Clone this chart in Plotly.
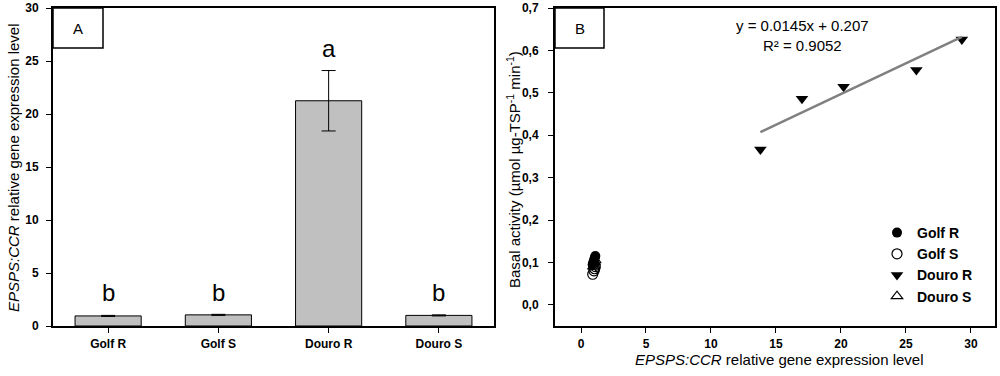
import plotly.graph_objects as go

# ---- Panel A data ----
categories = ["Golf R", "Golf S", "Douro R", "Douro S"]
expr_means = [0.95, 1.05, 21.25, 1.0]
expr_err = [0.05, 0.05, 2.85, 0.05]
sig_letters = ["b", "b", "a", "b"]
letter_y = [3.2, 3.2, 26.2, 3.2]

# ---- Panel B data ----
golfR_x = [0.9, 1.0, 1.05, 1.1, 0.95]
golfR_y = [0.095, 0.105, 0.11, 0.115, 0.1]
golfS_x = [0.9, 1.0, 1.05, 1.1, 0.95]
golfS_y = [0.072, 0.08, 0.085, 0.09, 0.095]
douroR_x = [13.8, 17.0, 20.2, 25.8, 29.3]
douroR_y = [0.366, 0.486, 0.514, 0.554, 0.626]
douroS_x = [0.95, 1.05, 1.1]
douroS_y = [0.09, 0.1, 0.105]
slope, intercept = 0.0145, 0.207
fit_x = [min(douroR_x), max(douroR_x)]

FONT = "Arial, Liberation Sans, sans-serif"
W, H = 1000, 376

def px(x):
    return x / W

def py(y):
    return 1 - y / H

fig = go.Figure()

fig.add_trace(go.Bar(
    x=categories, y=expr_means,
    error_y=dict(type="data", array=expr_err, color="black", thickness=1, width=7),
    marker=dict(color="#c0c0c0", line=dict(color="black", width=1)),
    width=0.6, showlegend=False, xaxis="x", yaxis="y"))

for c, t, ly in zip(categories, sig_letters, letter_y):
    fig.add_annotation(x=c, y=ly, xref="x", yref="y", text=t, showarrow=False,
                       xanchor="center", yanchor="middle",
                       font=dict(family=FONT, size=24, color="black"))

# Panel B scatter
fig.add_trace(go.Scatter(x=golfR_x, y=golfR_y, mode="markers", name="Golf R",
                         marker=dict(symbol="circle", size=10, color="black"),
                         xaxis="x2", yaxis="y2"))
fig.add_trace(go.Scatter(x=golfS_x, y=golfS_y, mode="markers", name="Golf S",
                         marker=dict(symbol="circle-open", size=10, color="black", line=dict(width=1.2)),
                         xaxis="x2", yaxis="y2"))
fig.add_trace(go.Scatter(x=douroR_x, y=douroR_y, mode="markers", name="Douro R",
                         marker=dict(symbol="triangle-down", size=11, color="black"),
                         xaxis="x2", yaxis="y2"))
fig.add_trace(go.Scatter(x=douroS_x, y=douroS_y, mode="markers", name="Douro S",
                         marker=dict(symbol="triangle-up-open", size=10, color="black", line=dict(width=1.2)),
                         xaxis="x2", yaxis="y2"))
fig.add_trace(go.Scatter(x=fit_x, y=[slope * v + intercept for v in fit_x], mode="lines",
                         line=dict(color="#808080", width=2.5), showlegend=False,
                         xaxis="x2", yaxis="y2"))

axis_common = dict(showline=True, linecolor="black", linewidth=2, mirror=True,
                   ticks="outside", ticklen=5, tickcolor="black", tickwidth=1,
                   showgrid=False, zeroline=False, automargin=False,
                   tickfont=dict(family=FONT, size=12, color="black", weight="bold"))

ydom = [py(326), py(8)]
fig.update_layout(
    template="none",
    width=W, height=H, margin=dict(l=0, r=0, t=0, b=0, pad=0, autoexpand=False),
    paper_bgcolor="white", plot_bgcolor="white",
    separators=",.",
    xaxis=dict(domain=[px(53), px(494)], range=[-0.5, 3.5], ticklabelstandoff=1, **axis_common),
    yaxis=dict(domain=ydom, range=[0, 30], dtick=5, anchor="x", ticklabelstandoff=5, **axis_common),
    xaxis2=dict(domain=[px(555), px(995)], range=[-2, 31.85], dtick=5, anchor="y2",
                ticklabelstandoff=1, **axis_common),
    yaxis2=dict(domain=ydom, range=[-0.05, 0.7], dtick=0.1, tickformat=".1f", anchor="x2",
                ticklabelstandoff=7, **axis_common),
    legend=dict(x=px(877), y=py(217), xanchor="left", yanchor="top",
                font=dict(family=FONT, size=14, color="black", weight="bold"),
                bgcolor="rgba(0,0,0,0)", borderwidth=0, tracegroupgap=0),
    font=dict(family=FONT, color="black"),
)

def paper_text(x, y, text, size, angle=0, align="center"):
    fig.add_annotation(xref="paper", yref="paper", x=px(x), y=py(y), text=text,
                       showarrow=False, xanchor="center", yanchor="middle", textangle=angle,
                       align=align, font=dict(family=FONT, size=size, color="black"))

# panel label boxes
for x0, x1, lab in [(53, 103, "A"), (555, 604, "B")]:
    fig.add_shape(type="rect", xref="paper", yref="paper",
                  x0=px(x0), x1=px(x1), y0=py(48), y1=py(8),
                  line=dict(color="black", width=1.5), fillcolor="white")
    paper_text((x0 + x1) / 2, 28, lab, 15)

# axis titles
paper_text(13, 168, "<i>EPSPS:CCR</i> relative gene expression level", 15, angle=-90)
paper_text(513, 170, "Basal activity (µmol µg-TSP<sup>-1</sup> min<sup>-1</sup>)", 15, angle=-90)
paper_text(779, 359, "<i>EPSPS:CCR</i> relative gene expression level", 15)

# equation
paper_text(802, 35, "y = 0.0145x + 0.207<br>R² = 0.9052", 15)

fig.write_html("out.html", config={"displayModeBar": False},
               post_script="document.body.style.margin='0';document.body.style.overflow='hidden';")
